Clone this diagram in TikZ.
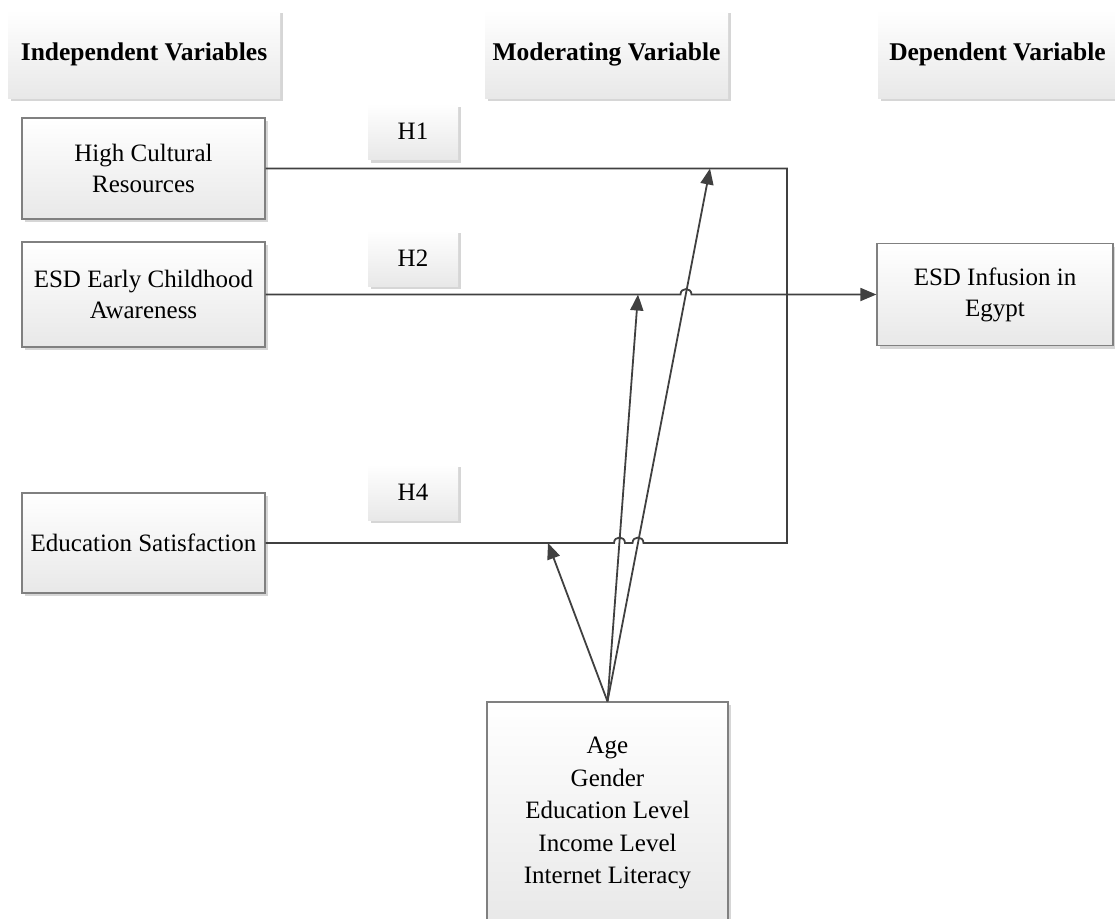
\documentclass[tikz,border=0pt]{standalone}
\usepackage{fontspec}
\setmainfont{Liberation Serif}
\usetikzlibrary{arrows.meta,shadows}

\definecolor{linec}{HTML}{404040}
\definecolor{framec}{HTML}{808080}
\definecolor{shadec}{HTML}{D6D6D6}

\tikzset{
  panel/.style={shade, top color=white, bottom color=black!9,
    drop shadow={shadow xshift=3pt, shadow yshift=-3pt, fill=shadec, opacity=1},
    align=center, inner sep=0pt, text=black,
    font=\fontsize{25}{31}\selectfont},
  header/.style={panel, font=\fontsize{25.5}{31}\selectfont\bfseries,
    minimum height=88pt},
  hyp/.style={panel, minimum width=90pt, minimum height=56pt},
  varbox/.style={panel, draw=framec, line width=1.2pt},
  conn/.style={draw=linec, line width=1.8pt},
  tip/.style={-{Triangle[length=16pt,width=13pt]}}
}

\begin{document}
\begin{tikzpicture}[x=1pt,y=-1pt]
  \useasboundingbox (0,0) rectangle (1115,918);

  % column headings
  \node[header, minimum width=272pt] (hiv) at (144,54) {Independent Variables};
  \node[header, minimum width=243pt] (hmv) at (606.5,54) {Moderating Variable};
  \node[header, minimum width=239pt] (hdv) at (997.5,54) {Dependent Variable};

  % independent variables
  \node[varbox, minimum width=243pt, minimum height=101pt] (hcr) at (143.5,168.5) {High Cultural\\Resources};
  \node[varbox, minimum width=243pt, minimum height=105pt] (eca) at (143.5,294.5) {ESD Early Childhood\\Awareness};
  \node[varbox, minimum width=243pt, minimum height=100pt] (es) at (143.5,543) {Education Satisfaction};

  % dependent variable
  \node[varbox, minimum width=236pt, minimum height=102pt] (inf) at (995,294.5) {ESD Infusion in\\Egypt};

  % moderators
  \node[varbox, minimum width=241pt, minimum height=222pt, font=\fontsize{25}{32.5}\selectfont] (mod) at (607.5,813)
    {Age\\Gender\\Education Level\\Income Level\\Internet Literacy};

  % hypothesis labels
  \node[hyp] (h1) at (413,131.5) {H1};
  \node[hyp] (h2) at (413,258) {H2};
  \node[hyp] (h4) at (413,492) {H4};

  % junction points and arrow targets on the paths
  \coordinate (c1) at (787,168.5);
  \coordinate (c2) at (787,543);
  \coordinate (t1) at (710,168.5);
  \coordinate (t2) at (638,294.5);
  \coordinate (t3) at (548,543);

  % H1 and H4 paths joined by the vertical bar
  \draw[conn] (hcr.east) -- (c1) -- (c2)
    -- (643.5,543) .. controls (643.5,535.7) and (632.5,535.7) .. (632.5,543)
    -- (625,543) .. controls (625,535.7) and (614,535.7) .. (614,543)
    -- (es.east);

  % H2 path to the dependent variable
  \draw[conn, tip] (eca.east)
    -- (680.5,294.5) .. controls (680.5,287.2) and (691.5,287.2) .. (691.5,294.5)
    -- (inf.west);

  % moderating arrows
  \draw[conn, tip] (mod.north) -- (t3);
  \draw[conn, tip] (mod.north) -- (t2);
  \draw[conn, tip] (mod.north) -- (t1);
\end{tikzpicture}
\end{document}
